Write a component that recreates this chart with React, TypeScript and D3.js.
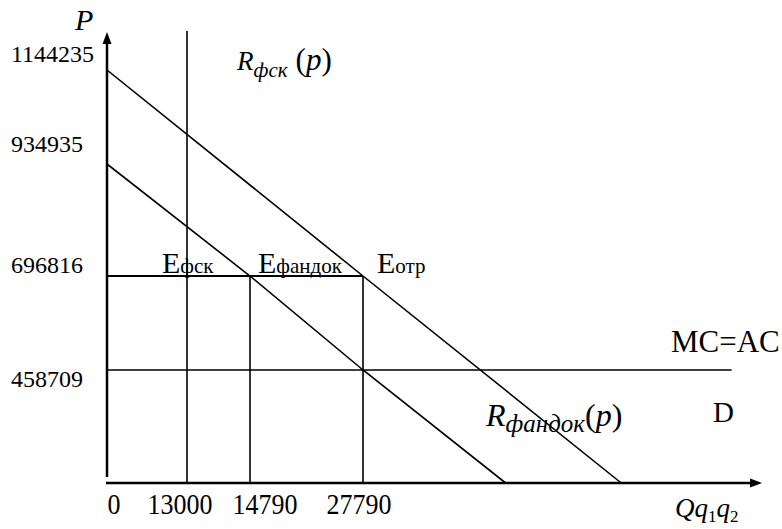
import React from 'react';
import * as d3 from 'd3';

// tick values on the axes
const qTicks = [0, 13000, 14790, 27790];
const qTickLabels = ['0', '13000', '14790', '27790'];
const pTicks = [1144235, 934935, 696816, 458709];
const pTickLabels = ['1144235', '934935', '696816', '458709'];

// the two revenue / demand lines (q, p)
const rFsk = [
  { q: 0, p: 1144235 },
  { q: 27790, p: 696816 },
  { q: 57500, p: 0 },
];
const rFandok = [
  { q: 0, p: 934935 },
  { q: 14790, p: 696816 },
  { q: 27790, p: 458709 },
  { q: 44200, p: 0 },
];

// equilibrium level and points
const pEquil = 696816;
const mcAc = 458709;
const eQ = [13000, 14790, 27790];
const eSubs = ['фск', 'фандок', 'отр'];

const qMcEnd = 70200;
const qAxisMax = 73700;
const pAxisMax = 1228800;

// label nudges (layout only)
const pLabelDy = [-8, -12, -3, 17];
const qLabelDx = [7, -7, 15, -4];
const eLabelDx = [-25, 8, 14];

const W = 782;
const H = 529;
const font = "'Liberation Serif', 'DejaVu Serif', serif";

export default function App() {
  // the picture is a schematic: each marked value gets its own spot on the axis
  const x = d3.scaleLinear().domain([0, 13000, 14790, 27790]).range([107, 187, 250, 363]);
  const y = d3
    .scaleLinear()
    .domain([0, 458709, 696816, 934935, 1144235])
    .range([483, 370, 276, 164, 70]);

  const line = d3
    .line<{ q: number; p: number }>()
    .x((d) => x(d.q))
    .y((d) => y(d.p));

  const x0 = x(0);
  const y0 = y(0);
  const xEnd = x(qAxisMax);
  const yTop = y(pAxisMax);

  return (
    <svg
      width={W}
      height={H}
      style={{ position: 'absolute', left: 0, top: 0, background: '#fff', fontFamily: font }}
    >
      <g stroke="#000" fill="none">
        {/* axes */}
        <line x1={x0} x2={x0} y1={y0 - 6} y2={yTop + 10} strokeWidth={2.5} />
        <line x1={x0 - 1} x2={xEnd - 10} y1={y0} y2={y0} strokeWidth={2.5} />
        {/* guide lines */}
        <line x1={x0} x2={x(eQ[2])} y1={y(pEquil)} y2={y(pEquil)} strokeWidth={2} />
        <line x1={x0} x2={x(qMcEnd)} y1={y(mcAc)} y2={y(mcAc)} strokeWidth={1.6} />
        <line x1={x(eQ[0])} x2={x(eQ[0])} y1={y0} y2={yTop - 1} strokeWidth={1.6} />
        {eQ.slice(1).map((q) => (
          <line key={q} x1={x(q)} x2={x(q)} y1={y0} y2={y(pEquil)} strokeWidth={1.6} />
        ))}
        <path d={line(rFsk) || ''} strokeWidth={1.6} />
        <path d={line(rFandok) || ''} strokeWidth={1.6} />
      </g>
      {/* arrow heads */}
      <path d={`M${x0},${yTop} L${x0 - 4.5},${yTop + 12} L${x0 + 4.5},${yTop + 12} Z`} fill="#000" />
      <path d={`M${xEnd},${y0} L${xEnd - 12},${y0 - 4.5} L${xEnd - 12},${y0 + 4.5} Z`} fill="#000" />

      {/* P tick labels */}
      {pTicks.map((p, i) => (
        <text key={p} x={11} y={y(p) + pLabelDy[i]} fontSize={24}>
          {pTickLabels[i]}
        </text>
      ))}
      {/* Q tick labels */}
      {qTicks.map((q, i) => (
        <text
          key={q}
          transform={`translate(${x(q) + qLabelDx[i]},${514}) scale(1,1.15)`}
          textAnchor="middle"
          fontSize={26}
        >
          {qTickLabels[i]}
        </text>
      ))}

      {/* equilibrium labels */}
      {eQ.map((q, i) => (
        <text key={q} x={x(q) + eLabelDx[i]} y={y(pEquil) - 3} fontSize={30}>
          E<tspan fontSize={21}>{eSubs[i]}</tspan>
        </text>
      ))}

      {/* axis titles */}
      <text x={75} y={30} fontSize={30} fontStyle="italic">
        P
      </text>
      <text x={675} y={517} fontSize={27} fontStyle="italic">
        Qq
        <tspan fontStyle="normal" fontSize={17} dy={5}>
          1
        </tspan>
        <tspan dy={-5}>q</tspan>
        <tspan fontStyle="normal" fontSize={17} dy={5}>
          2
        </tspan>
      </text>

      {/* curve names */}
      <text x={237} y={70} fontSize={27}>
        <tspan fontStyle="italic">R</tspan>
        <tspan fontStyle="italic" fontSize={21} dy={7}>
          фск
        </tspan>
        <tspan dy={-7} dx={8} fontSize={31}>
          (
        </tspan>
        <tspan fontStyle="italic" fontSize={31}>
          p
        </tspan>
        <tspan fontSize={31}>)</tspan>
      </text>
      <text x={486} y={426} fontSize={32}>
        <tspan fontStyle="italic">R</tspan>
        <tspan fontStyle="italic" fontSize={25} dy={6}>
          фандок
        </tspan>
        <tspan dy={-6}>(</tspan>
        <tspan fontStyle="italic">p</tspan>
        <tspan>)</tspan>
      </text>
      <text x={671} y={352} fontSize={31}>
        MC=AC
      </text>
      <text x={713} y={422} fontSize={29}>
        D
      </text>
    </svg>
  );
}
